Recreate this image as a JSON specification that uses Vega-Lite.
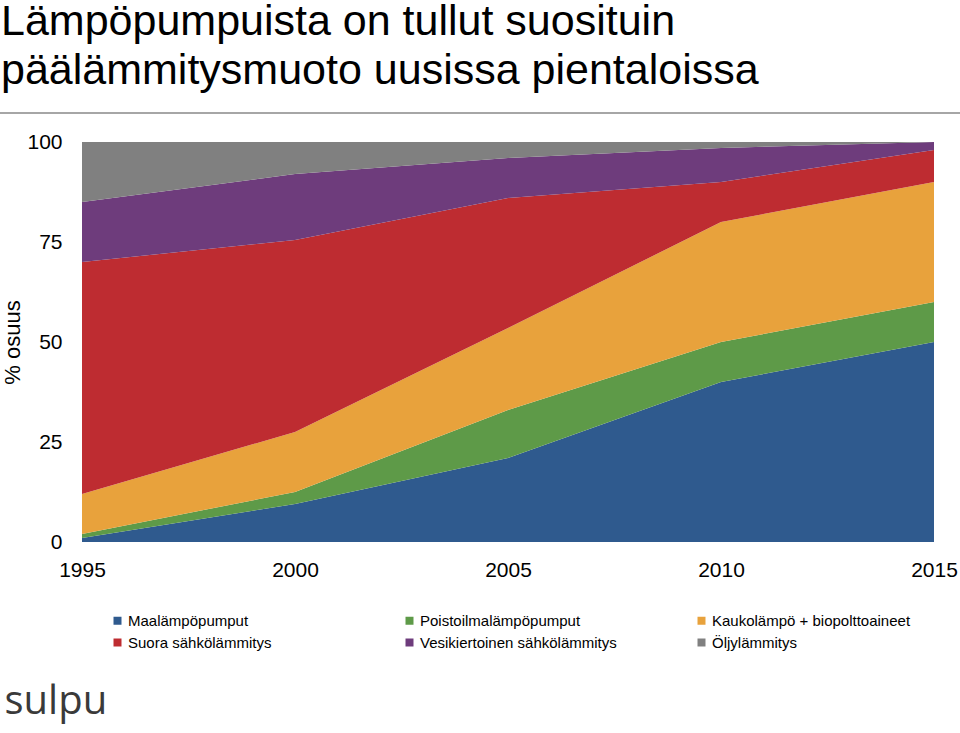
{
  "$schema": "https://vega.github.io/schema/vega-lite/v6.json",
  "width": 852,
  "height": 400,
  "autosize": "none",
  "padding": {"left": 82, "top": 142, "right": 26, "bottom": 191},
  "background": "white",
  "config": {
    "font": "Liberation Sans",
    "view": {"stroke": null}
  },
  "title": {
    "text": ["Lämpöpumpuista on tullut suosituin", "päälämmitysmuoto uusissa pientaloissa"],
    "anchor": "start",
    "frame": "group",
    "font": "Liberation Sans",
    "fontSize": 43,
    "fontWeight": "normal",
    "color": "#000000",
    "lineHeight": 49,
    "dx": -81,
    "offset": 19
  },
  "datasets": {
    "shares": [
      {"year": 1995, "type": "Maalämpöpumput", "ord": 1, "value": 1},
      {"year": 2000, "type": "Maalämpöpumput", "ord": 1, "value": 9.5},
      {"year": 2005, "type": "Maalämpöpumput", "ord": 1, "value": 21},
      {"year": 2010, "type": "Maalämpöpumput", "ord": 1, "value": 40},
      {"year": 2015, "type": "Maalämpöpumput", "ord": 1, "value": 50},
      {"year": 1995, "type": "Poistoilmalämpöpumput", "ord": 2, "value": 1},
      {"year": 2000, "type": "Poistoilmalämpöpumput", "ord": 2, "value": 3},
      {"year": 2005, "type": "Poistoilmalämpöpumput", "ord": 2, "value": 12},
      {"year": 2010, "type": "Poistoilmalämpöpumput", "ord": 2, "value": 10},
      {"year": 2015, "type": "Poistoilmalämpöpumput", "ord": 2, "value": 10},
      {"year": 1995, "type": "Kaukolämpö + biopolttoaineet", "ord": 3, "value": 10},
      {"year": 2000, "type": "Kaukolämpö + biopolttoaineet", "ord": 3, "value": 15},
      {"year": 2005, "type": "Kaukolämpö + biopolttoaineet", "ord": 3, "value": 20.5},
      {"year": 2010, "type": "Kaukolämpö + biopolttoaineet", "ord": 3, "value": 30},
      {"year": 2015, "type": "Kaukolämpö + biopolttoaineet", "ord": 3, "value": 30},
      {"year": 1995, "type": "Suora sähkölämmitys", "ord": 4, "value": 58},
      {"year": 2000, "type": "Suora sähkölämmitys", "ord": 4, "value": 48},
      {"year": 2005, "type": "Suora sähkölämmitys", "ord": 4, "value": 32.5},
      {"year": 2010, "type": "Suora sähkölämmitys", "ord": 4, "value": 10},
      {"year": 2015, "type": "Suora sähkölämmitys", "ord": 4, "value": 8},
      {"year": 1995, "type": "Vesikiertoinen sähkölämmitys", "ord": 5, "value": 15},
      {"year": 2000, "type": "Vesikiertoinen sähkölämmitys", "ord": 5, "value": 16.5},
      {"year": 2005, "type": "Vesikiertoinen sähkölämmitys", "ord": 5, "value": 10},
      {"year": 2010, "type": "Vesikiertoinen sähkölämmitys", "ord": 5, "value": 8.5},
      {"year": 2015, "type": "Vesikiertoinen sähkölämmitys", "ord": 5, "value": 2},
      {"year": 1995, "type": "Öljylämmitys", "ord": 6, "value": 15},
      {"year": 2000, "type": "Öljylämmitys", "ord": 6, "value": 8},
      {"year": 2005, "type": "Öljylämmitys", "ord": 6, "value": 4},
      {"year": 2010, "type": "Öljylämmitys", "ord": 6, "value": 1.5},
      {"year": 2015, "type": "Öljylämmitys", "ord": 6, "value": 0}
    ],
    "divider": [{}]
  },
  "layer": [
    {
      "data": {"name": "shares"},
      "mark": {"type": "area", "interpolate": "linear"},
      "encoding": {
        "x": {
          "field": "year",
          "type": "quantitative",
          "scale": {"domain": [1995, 2015], "nice": false, "zero": false},
          "axis": {
            "values": [1995, 2000, 2005, 2010, 2015],
            "format": "d",
            "grid": false,
            "domain": false,
            "ticks": false,
            "labelFontSize": 21,
            "labelColor": "#000000",
            "labelPadding": 17,
            "labelFlush": false,
            "title": "sulpu",
            "titleFont": "Open Sans",
            "titleFontSize": 40,
            "titleFontWeight": "normal",
            "titleColor": "#3a3a3a",
            "titleAnchor": "start",
            "titleAlign": "left",
            "titleBaseline": "alphabetic",
            "titleX": -78,
            "titleY": 171
          }
        },
        "y": {
          "field": "value",
          "type": "quantitative",
          "stack": "zero",
          "scale": {"domain": [0, 100], "nice": false},
          "axis": {
            "values": [0, 25, 50, 75, 100],
            "grid": false,
            "domain": false,
            "ticks": false,
            "labelFontSize": 21,
            "labelColor": "#000000",
            "labelPadding": 20,
            "title": "% osuus",
            "titleFontSize": 22,
            "titleFontWeight": "normal",
            "titleColor": "#000000",
            "titleAngle": -90,
            "titleAlign": "center",
            "titleBaseline": "middle",
            "titleX": -70,
            "titleY": 200
          }
        },
        "order": {"field": "ord", "type": "quantitative"},
        "color": {
          "field": "type",
          "type": "nominal",
          "scale": {
            "domain": ["Maalämpöpumput", "Poistoilmalämpöpumput", "Kaukolämpö + biopolttoaineet", "Suora sähkölämmitys", "Vesikiertoinen sähkölämmitys", "Öljylämmitys"],
            "range": ["#2F5A8E", "#5E9A48", "#E8A23C", "#BE2C31", "#6E3C7C", "#808080"]
          },
          "legend": {
            "orient": "none",
            "legendX": 28,
            "legendY": 471,
            "direction": "horizontal",
            "columns": 3,
            "title": null,
            "symbolType": "square",
            "symbolSize": 64,
            "symbolStrokeWidth": 0,
            "labelFontSize": 15,
            "labelColor": "#000000",
            "labelLimit": 400,
            "gridAlign": "all",
            "columnPadding": 75,
            "rowPadding": 6,
            "labelOffset": 3
          }
        }
      }
    },
    {
      "data": {"name": "divider"},
      "mark": {"type": "rule", "color": "#a6a6a6", "strokeWidth": 2, "clip": false},
      "encoding": {
        "x": {"datum": 1993.06, "type": "quantitative"},
        "x2": {"datum": 2015.62},
        "y": {"datum": 107.25, "type": "quantitative"}
      }
    }
  ]
}
